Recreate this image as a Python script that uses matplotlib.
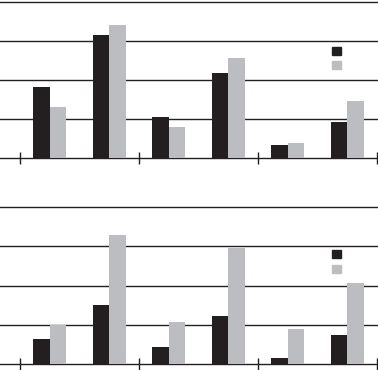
import numpy as np
import matplotlib
matplotlib.use("Agg")
import matplotlib.pyplot as plt
from matplotlib.patches import Patch

# six bar pairs per panel, three groups of two
positions = [0.5, 1.5, 2.5, 3.5, 4.5, 5.5]
group_edges = [0, 2, 4, 6]

top_dark = [1.81, 3.16, 1.04, 2.19, 0.33, 0.92]
top_light = [1.30, 3.41, 0.79, 2.57, 0.38, 1.45]

bottom_dark = [0.64, 1.50, 0.44, 1.22, 0.16, 0.74]
bottom_light = [0.99, 3.27, 1.07, 2.94, 0.89, 2.06]

DARK = "#231f20"
LIGHT = "#bcbdc0"
W = 0.28

fig = plt.figure(figsize=(3.78, 3.70), dpi=100)


def panel(rect, dark, light, leg_y):
    ax = fig.add_axes(rect)
    x = np.array(positions)
    ax.bar(x - W / 2, dark, W, color=DARK, zorder=3)
    ax.bar(x + W / 2, light, W, color=LIGHT, zorder=3)
    ax.set_xlim(-0.336, 6.017)
    ax.set_ylim(0, 4.02)
    ax.set_yticks([1, 2, 3, 4])
    ax.yaxis.grid(True, color=DARK, lw=1.0, zorder=1)
    ax.tick_params(axis="y", length=0, labelleft=False)
    ax.set_xticks(group_edges)
    ax.tick_params(axis="x", direction="inout", length=8, width=1.0,
                   color=DARK, labelbottom=False)
    for s in ["top", "left", "right"]:
        ax.spines[s].set_visible(False)
    ax.spines["bottom"].set_color(DARK)
    ax.spines["bottom"].set_linewidth(1.0)
    handles = [Patch(color=DARK), Patch(color=LIGHT)]
    ax.legend(handles, ["", ""], loc="upper left", bbox_to_anchor=(0.878, leg_y),
              frameon=False, borderpad=0, borderaxespad=0, fontsize=8,
              handlelength=0.81, handleheight=0.72, labelspacing=0.4,
              handletextpad=0)
    return ax


panel([0, 0.573, 1, 0.424], top_dark, top_light, 0.71)
panel([0, 0.0154, 1, 0.428], bottom_dark, bottom_light, 0.72)

fig.savefig("out.png", dpi=100)
